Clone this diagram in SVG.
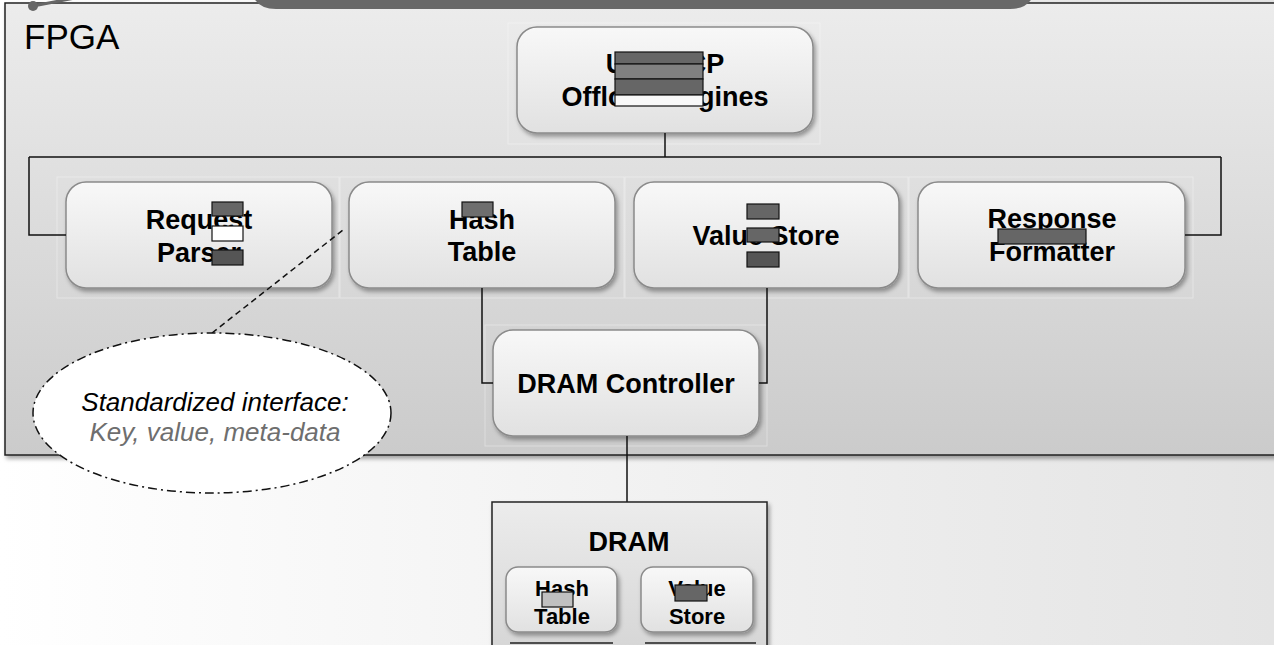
<svg xmlns="http://www.w3.org/2000/svg" width="1274" height="645" viewBox="0 0 1274 645">
<defs>
<linearGradient id="bg" x1="0" y1="0" x2="1" y2="0"><stop offset="0" stop-color="#ffffff"/><stop offset="1" stop-color="#e4e4e4"/></linearGradient>
<linearGradient id="fpga" x1="0" y1="0" x2="0" y2="1"><stop offset="0" stop-color="#ececec"/><stop offset="1" stop-color="#cbcbcb"/></linearGradient>
<linearGradient id="node" x1="0" y1="0" x2="0" y2="1"><stop offset="0" stop-color="#f8f8f8"/><stop offset="1" stop-color="#e1e1e1"/></linearGradient>
<linearGradient id="dram" x1="0" y1="0" x2="0" y2="1"><stop offset="0" stop-color="#ececec"/><stop offset="1" stop-color="#d4d4d4"/></linearGradient>
<filter id="sh" x="-10%" y="-10%" width="130%" height="140%"><feDropShadow dx="2" dy="3" stdDeviation="2" flood-color="#000" flood-opacity="0.35"/></filter>
</defs>
<style>
.lbl{font-family:"Liberation Sans",Arial,Helvetica,sans-serif;font-weight:bold;font-size:27px;fill:#000;text-anchor:middle}
.sm{font-size:22px}
.nd{fill:url(#node);stroke:#8a8a8a;stroke-width:1.5;filter:url(#sh)}
.ghost{fill:none;stroke:#ffffff;stroke-opacity:0.35;stroke-width:1}
.conn{fill:none;stroke:#111;stroke-width:1.5}
.red{stroke:#111;stroke-width:1.2}
.d{fill:#666}
.m{fill:#808080}
.w{fill:#f8f8f8}
.it{font-family:"Liberation Sans",Arial,Helvetica,sans-serif;font-style:italic;font-size:26px;text-anchor:middle}
</style>
<rect x="0" y="0" width="1274" height="645" fill="url(#bg)"/>
<g id="fpga">
<rect x="5" y="3" width="1290" height="452" fill="url(#fpga)" stroke="#222" stroke-width="1.5" filter="url(#sh)"/>
<text x="24" y="49" font-family="'Liberation Sans',Arial,sans-serif" font-size="35" fill="#000">FPGA</text>
</g>
<g id="topbar">
<path d="M250,-20 H1036 Q1036,9 1010,9 H276 Q250,9 250,-20 Z" fill="#686868"/>
<path d="M33,6 L75,-2" stroke="#666" stroke-width="3" fill="none"/>
<circle cx="33" cy="6" r="5" fill="#666"/>
</g>
<g id="offload">
<rect class="ghost" x="508" y="23" width="312" height="121"/>
<rect class="nd" x="517" y="27" width="296" height="106" rx="20"/>
<text class="lbl" x="665" y="73">UDP/TCP</text>
<text class="lbl" x="665" y="106">Offload Engines</text>
<rect class="red d" x="615" y="52" width="88" height="12"/>
<rect class="red m" x="615" y="64" width="88" height="15"/>
<rect class="red d" x="615" y="79" width="88" height="16"/>
<rect class="red w" x="615" y="95" width="88" height="11"/>
</g>
<g id="request-parser">
<rect class="ghost" x="57" y="177" width="282" height="121"/>
<rect class="nd" x="66" y="182" width="266" height="106" rx="20"/>
<text class="lbl" x="199" y="229">Request</text>
<text class="lbl" x="199" y="262">Parser</text>
<rect class="red d" x="212" y="202" width="31" height="14"/>
<rect class="red" fill="#fff" x="212" y="226" width="31" height="15"/>
<rect class="red" fill="#555" x="212" y="250" width="31" height="15"/>
</g>
<g id="hash-table">
<rect class="ghost" x="340" y="177" width="284" height="121"/>
<rect class="nd" x="349" y="182" width="266" height="106" rx="20"/>
<text class="lbl" x="482" y="229">Hash</text>
<text class="lbl" x="482" y="261">Table</text>
<rect class="red" fill="#6e6e6e" x="462" y="202" width="31" height="15"/>
</g>
<g id="value-store">
<rect class="ghost" x="625" y="177" width="283" height="121"/>
<rect class="nd" x="634" y="182" width="265" height="106" rx="20"/>
<text class="lbl" x="766" y="245">Value Store</text>
<rect class="red d" x="747" y="204" width="32" height="15"/>
<rect class="red d" x="747" y="228" width="32" height="14"/>
<rect class="red" fill="#555" x="747" y="252" width="32" height="15"/>
</g>
<g id="response-formatter">
<rect class="ghost" x="909" y="177" width="284" height="121"/>
<rect class="nd" x="918" y="182" width="267" height="106" rx="20"/>
<text class="lbl" x="1052" y="228">Response</text>
<text class="lbl" x="1052" y="261">Formatter</text>
<rect class="red d" x="998" y="229" width="88" height="15"/>
</g>
<g id="dram-controller">
<rect class="ghost" x="485" y="325" width="282" height="121"/>
<rect class="nd" x="493" y="330" width="266" height="106" rx="20"/>
<text class="lbl" x="626" y="393">DRAM Controller</text>
</g>
<g id="connectors">
<path class="conn" d="M665,133 V157"/>
<path class="conn" d="M29,157 H1221"/>
<path class="conn" d="M29,157 V235 H66"/>
<path class="conn" d="M1221,157 V235 H1185"/>
<path class="conn" d="M482,288 V383 H493"/>
<path class="conn" d="M767,288 V383 H759"/>
<path class="conn" d="M627,436 V502"/>
<path d="M212,333 L343,230" fill="none" stroke="#111" stroke-width="1.5" stroke-dasharray="6,4"/>
</g>
<g id="callout">
<ellipse cx="212" cy="413" rx="179" ry="80" fill="#fff" stroke="#111" stroke-width="1.5" stroke-dasharray="9,4,2,4"/>
<text class="it" x="215" y="411" fill="#000">Standardized interface:</text>
<text class="it" x="215" y="441" fill="#6e6e6e">Key, value, meta-data</text>
</g>
<g id="dram">
<rect x="492" y="502" width="275" height="160" fill="url(#dram)" stroke="#222" stroke-width="1.5" filter="url(#sh)"/>
<text class="lbl" x="629" y="551">DRAM</text>
<path d="M510,643 H613 M645,643 H756" stroke="#222" stroke-width="1.5"/>
<g id="dram-hash-table">
<rect class="nd" x="506" y="567" width="111" height="65" rx="12"/>
<text class="lbl sm" x="562" y="596">Hash</text>
<text class="lbl sm" x="562" y="624">Table</text>
<rect class="red" fill="#c0c0c0" x="542" y="592" width="31" height="15"/>
</g>
<g id="dram-value-store">
<rect class="nd" x="641" y="567" width="112" height="65" rx="12"/>
<text class="lbl sm" x="697" y="596">Value</text>
<text class="lbl sm" x="697" y="624">Store</text>
<rect class="red d" x="675" y="585" width="32" height="16"/>
</g>
</g>
</svg>
